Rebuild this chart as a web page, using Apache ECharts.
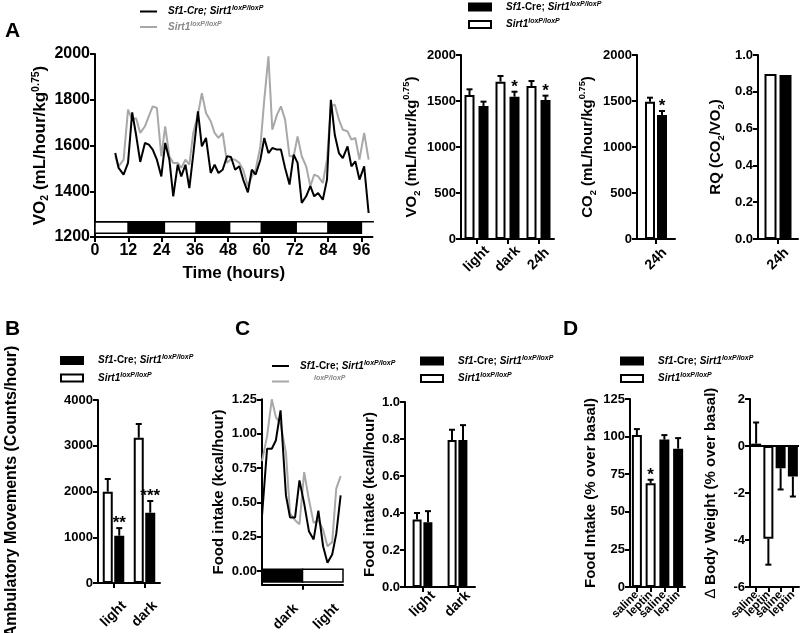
<!DOCTYPE html>
<html><head><meta charset="utf-8">
<script src="https://cdn.jsdelivr.net/npm/echarts@6/dist/echarts.min.js"></script>
<style>html,body{margin:0;padding:0;background:#fff}#c{width:800px;height:633px}</style>
</head><body><div id="c"></div>
<script>
// ---------- DATA ----------
// Panel A: VO2 time course
var aHours = [7.3,8.5,10.3,11.9,13.4,14.8,16.3,18,19.4,20.8,22.3,23.9,25.3,26.8,28.2,29.8,31.1,32.6,34,35.4,37.1,38.5,40,41.7,43.1,44.5,46,47.6,49,50.5,52,53.4,55.1,56.5,57.9,59.6,61,62.5,63.9,65.6,67,68.5,70.1,71.6,73,74.5,76.1,77.6,79,80.4,82.1,83.6,85,86.4,87.9,89.3,91,92.4,93.8,95.3,97,98.6];
var aVO2KO = [1567,1502,1473,1524,1745,1647,1528,1611,1604,1582,1538,1465,1611,1538,1378,1516,1465,1516,1414,1560,1749,1596,1633,1480,1516,1480,1494,1553,1550,1494,1509,1451,1395,1494,1473,1538,1633,1567,1589,1582,1582,1502,1429,1560,1524,1349,1378,1422,1378,1392,1363,1451,1800,1647,1567,1545,1596,1509,1531,1451,1509,1305];
var aVO2WT = [1553,1509,1538,1757,1713,1720,1655,1684,1728,1771,1764,1553,1684,1553,1524,1524,1502,1538,1516,1655,1735,1829,1742,1706,1655,1633,1655,1524,1541,1538,1524,1494,1422,1465,1494,1596,1800,1990,1669,1735,1771,1713,1553,1553,1640,1553,1509,1422,1473,1465,1436,1538,1771,1779,1713,1669,1662,1626,1633,1538,1655,1538];
var aPhaseStart = [0,12,25,36.5,48.5,60,72.5,84];
var aPhaseEnd   = [12,25,36.5,48.5,60,72.5,84,96];
var aPhaseDark  = [0,1,0,1,0,1,0,1];
var aXTicks = [0,12,24,36,48,60,72,84,96];

// Panel A: bars
var vo2Cats = ['light','dark','24h'];
var vo2WT = [1565,1710,1663];
var vo2WTErr = [1627,1772,1717];
var vo2KO = [1446,1547,1511];
var vo2KOErr = [1493,1601,1558];
var vo2KOStars = ['','*','*'];

var co2Cats = ['24h'];
var co2WT = [1493];
var co2WTErr = [1536];
var co2KO = [1348];
var co2KOErr = [1391];
var co2KOStars = ['*'];

var rqCats = ['24h'];
var rqWT = [0.897];
var rqKO = [0.891];

// Panel B
var bCats = ['light','dark'];
var bWT = [1996,3176];
var bWTErr = [2273,3475];
var bKO = [1034,1537];
var bKOErr = [1200,1792];
var bKOStars = ['**','***'];

// Panel C: food intake time course
var cHours = [0,1.5,2.9,4.1,5.5,7.1,8.3,9.8,11.1,12.5,13.9,15.3,16.7,18.1,19.4,20.8,22,23.3];
var cKO = [0.40,0.89,0.89,0.95,1.17,0.55,0.39,0.39,0.66,0.49,0.29,0.23,0.44,0.18,0.06,0.12,0.27,0.55];
var cWT = [0.80,0.98,1.25,1.12,1.07,0.86,0.42,0.37,0.34,0.72,0.52,0.35,0.37,0.30,0.18,0.21,0.60,0.69];
var cPhaseStart = [0,12];
var cPhaseEnd = [12,24];
var cPhaseDark = [1,0];
var cYTicks = [0,0.25,0.5,0.75,1.0,1.25];
var cXLabelPos = [7,19];
var cXLabels = ['dark','light'];

// Panel C: bars
var cbCats = ['light','dark'];
var cbWT = [0.365,0.795];
var cbWTErr = [0.40,0.85];
var cbKO = [0.35,0.795];
var cbKOErr = [0.41,0.875];

// Panel D
var dCats = ['saline','leptin','saline','leptin'];
var dFIWT = [101,69,'-','-'];
var dFIKO = ['-','-',98,92];
var dFIVal = [101,69,98,92];
var dFIErr = [105,71.3,101,99];
var dFIStars = ['','*','',''];
var dBWWT = [0.1,-3.95,'-','-'];
var dBWKO = ['-','-',-0.95,-1.3];
var dBWVal = [0.1,-3.95,-0.95,-1.3];
var dBWErr = [1.0,-5.05,-1.85,-2.15];

// ---------- HELPERS ----------
var FF = '"Liberation Sans", Arial, Helvetica, sans-serif';
var BLK = '#000', GRY = '#a8a8a8';
function zip(a,b){return a.map(function(v,i){return [v,b[i]];});}
function plain(v){return String(v);}

var titleRich = function(fs){
  return {
    t:{fontSize:fs,fontWeight:'bold',fontFamily:FF,color:BLK,lineHeight:20},
    sub:{fontSize:fs*0.62,fontWeight:'bold',fontFamily:FF,color:BLK,lineHeight:9,verticalAlign:'bottom'},
    sup:{fontSize:fs*0.62,fontWeight:'bold',fontFamily:FF,color:BLK,lineHeight:9,verticalAlign:'top'},
    d:{fontSize:fs,fontWeight:'normal',fontFamily:FF,color:BLK,lineHeight:20}
  };
};
function yAxis(g,min,max,interval,fs,name,gap,tfs,extra){
  var o = {
    gridIndex:g,type:'value',min:min,max:max,interval:interval,
    axisLine:{show:true,onZero:false,lineStyle:{color:BLK,width:2}},
    axisTick:{show:true,length:5,lineStyle:{color:BLK,width:2}},
    axisLabel:{color:BLK,fontSize:fs,fontWeight:'bold',fontFamily:FF,margin:5,formatter:plain},
    splitLine:{show:false},
    name:name,nameLocation:'middle',nameGap:gap,
    nameTextStyle:{rich:titleRich(tfs)}
  };
  if(extra){for(var k in extra){o[k]=extra[k];}}
  return o;
}
function xCat(g,data,fs,margin,align){
  return {
    gridIndex:g,type:'category',data:data,
    axisLine:{show:true,onZero:false,lineStyle:{color:BLK,width:2}},
    axisTick:{show:true,alignWithLabel:true,length:5,lineStyle:{color:BLK,width:2}},
    axisLabel:{interval:0,rotate:45,color:BLK,fontSize:fs,fontWeight:'bold',fontFamily:FF,margin:margin,
      align:align||'right',verticalAlign:'middle'},
    splitLine:{show:false}
  };
}
function bar(name,g,data,white,width,gap){
  return {
    type:'bar',name:name,xAxisIndex:g,yAxisIndex:g,data:data,
    barWidth:width,barGap:gap,
    itemStyle:{color:white?'#fff':BLK,borderColor:BLK,borderWidth:2},
    emphasis:{disabled:true},z:2
  };
}
function err(g,vals,errs,dx,stars){
  return {
    type:'custom',xAxisIndex:g,yAxisIndex:g,silent:true,z:5,
    data:vals.map(function(v,i){return [i,v,errs[i]];}),
    renderItem:function(p,api){
      var c=api.value(0),v=api.value(1),e=api.value(2);
      var a=api.coord([c,v]),b=api.coord([c,e]);
      var x=a[0]+dx;
      var ch=[
        {type:'line',shape:{x1:x,y1:a[1],x2:x,y2:b[1]},style:{stroke:BLK,lineWidth:2}},
        {type:'line',shape:{x1:x-3,y1:b[1],x2:x+3,y2:b[1]},style:{stroke:BLK,lineWidth:2}}
      ];
      var s=stars?stars[p.dataIndex]:'';
      if(s){ch.push({type:'text',x:x,y:b[1]+4,style:{text:s,fill:BLK,font:'bold 17px '+FF,textAlign:'center',textVerticalAlign:'bottom'}});}
      return {type:'group',children:ch};
    }
  };
}
function phases(g,starts,ends,dark,yTop,yBot,lineEnd){
  return {
    type:'custom',xAxisIndex:g,yAxisIndex:g,silent:true,clip:false,z:1,
    data:starts.map(function(s,i){return [s,ends[i],dark[i]];}),
    renderItem:function(p,api){
      var a=api.coord([api.value(0),yTop]),b=api.coord([api.value(1),yBot]);
      var ch=[{type:'rect',shape:{x:a[0],y:a[1],width:b[0]-a[0],height:b[1]-a[1]},
        style:{fill:api.value(2)?BLK:'#fff',stroke:BLK,lineWidth:1.5}}];
      if(p.dataIndex===0 && lineEnd!=null){
        var e=api.coord([lineEnd,yTop]);
        ch.push({type:'line',shape:{x1:a[0],y1:a[1],x2:e[0],y2:a[1]},style:{stroke:BLK,lineWidth:1.5}});
      }
      return {type:'group',children:ch};
    }
  };
}
var legRich = {
  i:{fontStyle:'italic',fontWeight:'bold',fontSize:10,fontFamily:FF,color:BLK,lineHeight:13},
  n:{fontWeight:'bold',fontSize:10,fontFamily:FF,color:BLK,lineHeight:13},
  s:{fontStyle:'italic',fontWeight:'bold',fontSize:7,fontFamily:FF,color:BLK,lineHeight:7,verticalAlign:'top'},
  ig:{fontStyle:'italic',fontWeight:'bold',fontSize:10,fontFamily:FF,color:'#888',lineHeight:13},
  sg:{fontStyle:'italic',fontWeight:'bold',fontSize:7,fontFamily:FF,color:'#888',lineHeight:7,verticalAlign:'top'},
  pad:{width:14,lineHeight:13}
};
var legText = {
  KOline:'{i|Sf1-Cre; Sirt1}{s|loxP/loxP}',
  WTline:'{ig|Sirt1}{sg|loxP/loxP}',
  KO:'{i|Sf1}{n|-Cre; }{i|Sirt1}{s|loxP/loxP}',
  WT:'{i|Sirt1}{s|loxP/loxP}',
  KOc:'{i|Sf1}{n|-Cre; }{i|Sirt1}{s|loxP/loxP}',
  WTc:'{pad|}{sg|loxP/loxP}'
};
function legend(left,top,names,isLine){
  return {
    show:true,orient:'vertical',left:left,top:top,padding:0,
    itemWidth:isLine?17:22,itemHeight:isLine?2:7,itemGap:isLine?4:6,
    selectedMode:false,data:names,icon:'rect',
    formatter:function(n){return legText[n];},
    textStyle:{fontFamily:FF,fontSize:10,fontWeight:'bold',color:BLK,rich:legRich,padding:[0,0,0,isLine?6:10]}
  };
}

function G(l,t,w,h){return {left:l,top:t,width:w,height:h,outerBoundsMode:'none',containLabel:false};}
var grids = [
  G(95,54,277.5,183),    //0 A line
  G(461,55,93,184),      //1 A VO2
  G(637,55,38,184),      //2 A CO2
  G(758,55,40,184),      //3 A RQ
  G(98,400,62,183),      //4 B
  G(262,399.3,81,185.4), //5 C line
  G(405,402,70,185),     //6 C bar
  G(630,399,55,188),     //7 D FI
  G(750,399,49,188)      //8 D BW
];

var xAxes = [
  {gridIndex:0,type:'value',min:0,max:100,
    axisLine:{show:true,onZero:false,lineStyle:{color:BLK,width:2}},
    axisTick:{show:true,length:5,customValues:aXTicks,lineStyle:{color:BLK,width:2}},
    axisLabel:{customValues:aXTicks,color:BLK,fontSize:16,fontWeight:'bold',fontFamily:FF,margin:6,formatter:plain},
    splitLine:{show:false},
    name:'Time (hours)',nameLocation:'middle',nameGap:28,
    nameTextStyle:{fontSize:17,fontWeight:'bold',fontFamily:FF,color:BLK}},
  xCat(1,vo2Cats,14,20,'center'),
  xCat(2,co2Cats,14,20,'center'),
  xCat(3,rqCats,14,20,'center'),
  xCat(4,bCats,14,31,'center'),
  {gridIndex:5,type:'value',min:0,max:24,
    axisLine:{show:true,onZero:false,lineStyle:{color:BLK,width:2}},
    axisTick:{show:true,length:5,customValues:[12],lineStyle:{color:BLK,width:2}},
    axisLabel:{customValues:cXLabelPos,rotate:45,align:'center',verticalAlign:'middle',color:BLK,fontSize:14,fontWeight:'bold',fontFamily:FF,margin:32,
      formatter:function(v){var i=cXLabelPos.indexOf(v);return i>=0?cXLabels[i]:'';}},
    splitLine:{show:false}},
  xCat(6,cbCats,14,17,'center'),
  xCat(7,dCats,11.5,6),
  xCat(8,dCats,11.5,6)
];

var yAxes = [
  yAxis(0,1200,2000,200,16,'{t|VO}{sub|2}{t| (mL/hour/kg}{sup|0.75}{t|)}',36,17),
  yAxis(1,0,2000,500,13,'{t|VO}{sub|2}{t| (mL/hour/kg}{sup|0.75}{t|)}',39,15),
  yAxis(2,0,2000,500,13,'{t|CO}{sub|2}{t| (mL/hour/kg}{sup|0.75}{t|)}',39,15),
  yAxis(3,0,1,0.2,13,'{t|RQ (CO}{sub|2}{t|/VO}{sub|2}{t|)}',32,15,{axisLabel:{color:BLK,fontSize:13,fontWeight:'bold',fontFamily:FF,margin:5,formatter:function(v){return v.toFixed(1);}}}),
  yAxis(4,0,4000,1000,13,'{t|Ambulatory Movements (Counts/hour)}',76,16),
  yAxis(5,-0.1,1.25,null,13,'{t|Food intake (kcal/hour)}',33,15,{
    axisTick:{show:true,length:5,customValues:cYTicks,lineStyle:{color:BLK,width:2}},
    axisLabel:{customValues:cYTicks,color:BLK,fontSize:13,fontWeight:'bold',fontFamily:FF,margin:5,formatter:function(v){return v.toFixed(2);}}}),
  yAxis(6,0,1,0.2,13,'{t|Food intake (kcal/hour)}',25,15,{axisLabel:{color:BLK,fontSize:13,fontWeight:'bold',fontFamily:FF,margin:5,formatter:function(v){return v.toFixed(1);}}}),
  yAxis(7,0,125,25,13,'{t|Food Intake (% over basal)}',29,15),
  yAxis(8,-6,2,2,13,'{d|\u2206}{t| Body Weight (% over basal)}',29,15)
];
delete yAxes[5].interval;

var series = [
  phases(0,aPhaseStart,aPhaseEnd,aPhaseDark,1267,1216,100.5),
  {type:'line',name:'WTline',xAxisIndex:0,yAxisIndex:0,data:zip(aHours,aVO2WT),symbol:'none',
    lineStyle:{color:GRY,width:2},itemStyle:{color:GRY},z:2,emphasis:{disabled:true}},
  {type:'line',name:'KOline',xAxisIndex:0,yAxisIndex:0,data:zip(aHours,aVO2KO),symbol:'none',
    lineStyle:{color:BLK,width:2},itemStyle:{color:BLK},z:3,emphasis:{disabled:true}},

  bar('WT',1,vo2WT,true,10,'40%'), bar('KO',1,vo2KO,false,10,'40%'),
  err(1,vo2WT,vo2WTErr,-7), err(1,vo2KO,vo2KOErr,7,vo2KOStars),

  bar('WT',2,co2WT,true,10,'20%'), bar('KO',2,co2KO,false,10,'20%'),
  err(2,co2WT,co2WTErr,-6), err(2,co2KO,co2KOErr,6,co2KOStars),

  bar('WT',3,rqWT,true,12,'25%'), bar('KO',3,rqKO,false,12,'25%'),

  bar('WT',4,bWT,true,10,'15%'), bar('KO',4,bKO,false,10,'15%'),
  err(4,bWT,bWTErr,-5.75), err(4,bKO,bKOErr,5.75,bKOStars),

  phases(5,cPhaseStart,cPhaseEnd,cPhaseDark,0.012,-0.08,null),
  {type:'line',name:'WTc',xAxisIndex:5,yAxisIndex:5,data:zip(cHours,cWT),symbol:'none',
    lineStyle:{color:GRY,width:2},itemStyle:{color:GRY},z:2,emphasis:{disabled:true}},
  {type:'line',name:'KOc',xAxisIndex:5,yAxisIndex:5,data:zip(cHours,cKO),symbol:'none',
    lineStyle:{color:BLK,width:2},itemStyle:{color:BLK},z:3,emphasis:{disabled:true}},

  bar('WT',6,cbWT,true,9,'20%'), bar('KO',6,cbKO,false,9,'20%'),
  err(6,cbWT,cbWTErr,-5.5), err(6,cbKO,cbKOErr,5.5),

  bar('WT',7,dFIWT,true,10,'-100%'), bar('KO',7,dFIKO,false,10,'-100%'),
  err(7,dFIVal,dFIErr,0,dFIStars),

  (function(){var s=bar('WT',8,dBWWT,true,10,'-100%');
    s.markLine={silent:true,symbol:'none',label:{show:false},lineStyle:{color:BLK,width:2,type:'solid'},data:[{yAxis:0}]};return s;})(),
  bar('KO',8,dBWKO,false,10,'-100%'),
  err(8,dBWVal,dBWErr,0)
];

var titleStyle = {fontSize:21,fontWeight:'bold',fontFamily:FF,color:BLK};
var option = {
  animation:false,
  backgroundColor:'#fff',
  title:[
    {text:'A',left:0,top:16,textStyle:titleStyle},
    {text:'B',left:0,top:314,textStyle:titleStyle},
    {text:'C',left:230,top:314,textStyle:titleStyle},
    {text:'D',left:558,top:314,textStyle:titleStyle}
  ],
  legend:[
    legend(140,5,['KOline','WTline'],true),
    legend(468,0.5,['KO','WT'],false),
    legend(60,354,['KO','WT'],false),
    legend(272,359.5,['KOc','WTc'],true),
    legend(420,354.5,['KO','WT'],false),
    legend(620,354.5,['KO','WT'],false)
  ],
  grid:grids,
  xAxis:xAxes,
  yAxis:yAxes,
  series:series
};
var chart = echarts.init(document.getElementById('c'),null,{renderer:'canvas'});
chart.setOption(option);
</script>
</body></html>
